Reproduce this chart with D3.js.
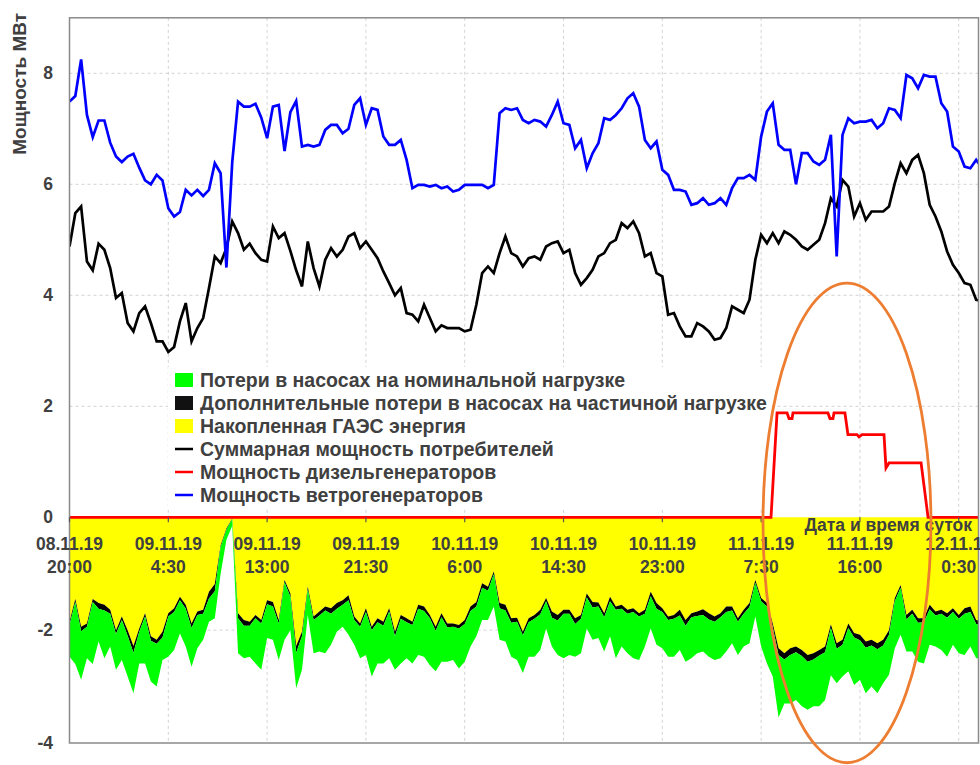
<!DOCTYPE html>
<html>
<head>
<meta charset="utf-8">
<script src="https://cdn.jsdelivr.net/npm/d3@7"></script>
<style>
  body { margin: 0; background: #fff; }
  svg { display: block; }
  text { font-family: "Liberation Sans", Arial, sans-serif; font-weight: bold; fill: #404040; }
</style>
</head>
<body>
<svg id="chart" width="980" height="765"></svg>
<script>
// Sampling: one value every half hour, starting 08.11.19 20:00
const sampleStepHours = 0.5;
const spanHours = 78.2;

// Axis ticks
const tickHours = [0, 8.5, 17, 25.5, 34, 42.5, 51, 59.5, 68, 76.5];
const tickDates = ["08.11.19", "09.11.19", "09.11.19", "09.11.19", "10.11.19", "10.11.19", "10.11.19", "11.11.19", "11.11.19", "12.11.19"];
const tickTimes = ["20:00", "4:30", "13:00", "21:30", "6:00", "14:30", "23:00", "7:30", "16:00", "0:30"];
const powerTicks = [-4, -2, 0, 2, 4, 6, 8];

// Wind generators, MW
const windPower = [
  7.49, 7.59, 8.25, 7.25, 6.85, 7.15, 7.15, 6.75, 6.5, 6.4,
  6.5, 6.55, 6.3, 6.07, 6.0, 6.17, 6.07, 5.57, 5.42, 5.5,
  5.9, 5.8, 5.9, 5.79, 5.9, 6.38, 6.2, 4.5, 6.4, 7.49,
  7.4, 7.4, 7.45, 7.2, 6.83, 7.4, 7.43, 6.6, 7.3, 7.5,
  6.68, 6.71, 6.68, 6.71, 6.98, 7.07, 7.07, 6.92, 7.0, 7.43,
  7.55, 7.07, 7.37, 7.34, 6.86, 6.71, 6.71, 6.8, 6.44, 5.93,
  5.99, 5.99, 5.96, 5.99, 5.93, 5.96, 5.87, 5.9, 5.99, 5.99,
  5.99, 5.99, 5.93, 5.99, 7.28, 7.37, 7.34, 7.37, 7.16, 7.1,
  7.16, 7.13, 7.04, 7.25, 7.49, 7.1, 7.07, 6.65, 6.8, 6.29,
  6.56, 6.74, 7.19, 7.16, 7.25, 7.37, 7.55, 7.64, 7.4, 6.8,
  6.65, 6.77, 6.26, 6.17, 5.9, 5.9, 5.87, 5.63, 5.66, 5.75,
  5.63, 5.66, 5.75, 5.63, 5.93, 6.11, 6.11, 6.17, 6.08, 6.86,
  7.31, 7.46, 6.71, 6.62, 6.62, 6.0, 6.56, 6.56, 6.41, 6.35,
  6.44, 6.89, 4.7, 6.89, 7.19, 7.1, 7.13, 7.13, 7.16, 7.01,
  7.1, 7.37, 7.34, 7.19, 7.97, 7.91, 7.73, 7.97, 7.94, 7.94,
  7.46, 7.31, 6.68, 6.59, 6.32, 6.29, 6.44, 6.3
];

// Total consumer load, MW
const consumerLoad = [
  4.88, 5.48, 5.6, 4.61, 4.45, 4.93, 4.82, 4.49, 3.95, 4.04,
  3.5, 3.35, 3.68, 3.8, 3.5, 3.17, 3.17, 2.98, 3.07, 3.53,
  3.86, 3.17, 3.41, 3.59, 4.13, 4.7, 4.58, 4.85, 5.33, 5.12,
  4.82, 4.93, 4.76, 4.64, 4.61, 5.24, 5.03, 5.12, 4.8, 4.45,
  4.16, 4.97, 4.49, 4.16, 4.64, 4.85, 4.7, 4.82, 5.06, 5.12,
  4.85, 4.97, 4.82, 4.67, 4.43, 4.22, 4.0, 4.13, 3.68, 3.65,
  3.53, 3.83, 3.59, 3.35, 3.46, 3.41, 3.41, 3.41, 3.35, 3.38,
  3.83, 4.4, 4.52, 4.4, 4.76, 5.06, 4.76, 4.7, 4.52, 4.67,
  4.7, 4.64, 4.88, 4.94, 4.97, 4.76, 4.82, 4.4, 4.19, 4.31,
  4.46, 4.7, 4.76, 4.94, 5.0, 5.3, 5.21, 5.33, 5.12, 4.7,
  4.76, 4.4, 4.34, 3.65, 3.68, 3.44, 3.26, 3.26, 3.5, 3.44,
  3.35, 3.2, 3.23, 3.41, 3.8, 3.74, 3.68, 3.92, 4.64, 5.09,
  4.94, 5.12, 4.94, 5.15, 5.09, 5.0, 4.88, 4.82, 4.91, 5.0,
  5.3, 5.75, 5.6, 6.08, 5.96, 5.42, 5.66, 5.36, 5.51, 5.51,
  5.51, 5.6, 6.02, 6.38, 6.2, 6.44, 6.53, 6.2, 5.63, 5.42,
  5.15, 4.79, 4.55, 4.4, 4.22, 4.19, 3.92, 3.9
];

// Stored pumped-storage energy: lower edge of the yellow band (MW, negative)
const storageFloor = [
  -1.85, -1.45, -1.94, -1.88, -1.45, -1.52, -1.55, -1.64, -2.0, -1.76,
  -2.0, -2.28, -1.97, -1.7, -2.11, -2.17, -2.03, -1.7, -1.61, -1.41,
  -1.55, -1.88, -1.67, -1.64, -1.32, -1.18, -0.5, -0.2, -0.02, -1.7,
  -1.82, -1.85, -1.73, -1.82, -1.47, -1.5, -1.82, -1.11, -1.35, -2.28,
  -2.03, -1.23, -1.76, -1.67, -1.58, -1.61, -1.52, -1.47, -1.38, -1.76,
  -1.88, -1.61, -1.94, -1.79, -1.85, -1.61, -2.03, -1.73, -1.79, -1.85,
  -1.55, -1.58, -1.73, -1.94, -1.7, -1.88, -1.88, -1.91, -1.82, -1.58,
  -1.5, -1.17, -1.23, -0.96, -1.52, -1.55, -1.79, -1.78, -2.03, -1.79,
  -1.73, -1.64, -1.43, -1.67, -1.73, -1.64, -1.64, -1.79, -1.73, -1.35,
  -1.5, -1.51, -1.7, -1.41, -1.58, -1.55, -1.64, -1.61, -1.7, -1.64,
  -1.32, -1.52, -1.61, -1.76, -1.73, -1.64, -1.82, -1.7, -1.67, -1.63,
  -1.7, -1.76, -1.7, -1.58, -1.58, -1.79, -1.64, -1.52, -1.11, -1.43,
  -1.52, -1.88, -2.32, -2.41, -2.32, -2.29, -2.35, -2.44, -2.41, -2.35,
  -2.29, -1.9, -2.23, -2.17, -1.88, -2.05, -2.08, -2.2, -2.17, -2.23,
  -2.17, -2.0, -1.43, -1.2, -1.73, -1.64, -1.79, -1.79, -1.55, -1.67,
  -1.64, -1.7, -1.61, -1.73, -1.61, -1.58, -1.82, -1.85
];

// Extra pump losses at partial load: thickness of the black band, MW
const partialLoadLoss = [
  0.06, 0.05, 0.08, 0.06, 0.05, 0.1, 0.1, 0.07, 0.07, 0.06,
  0.1, 0.12, 0.06, 0.06, 0.08, 0.07, 0.1, 0.06, 0.07, 0.06,
  0.07, 0.08, 0.06, 0.07, 0.12, 0.13, 0.03, 0.02, 0.01, 0.09,
  0.1, 0.07, 0.06, 0.06, 0.07, 0.08, 0.06, 0.04, 0.06, 0.12,
  0.08, 0.05, 0.06, 0.07, 0.07, 0.1, 0.1, 0.08, 0.09, 0.06,
  0.06, 0.07, 0.06, 0.07, 0.07, 0.06, 0.08, 0.07, 0.07, 0.06,
  0.07, 0.08, 0.06, 0.07, 0.07, 0.07, 0.06, 0.06, 0.07, 0.08,
  0.08, 0.08, 0.07, 0.05, 0.09, 0.1, 0.08, 0.07, 0.06, 0.07,
  0.07, 0.08, 0.06, 0.11, 0.1, 0.07, 0.07, 0.1, 0.07, 0.07,
  0.1, 0.07, 0.07, 0.08, 0.06, 0.07, 0.07, 0.07, 0.06, 0.07,
  0.08, 0.1, 0.07, 0.06, 0.07, 0.1, 0.1, 0.07, 0.08, 0.1,
  0.11, 0.09, 0.07, 0.1, 0.07, 0.06, 0.07, 0.07, 0.05, 0.06,
  0.06, 0.07, 0.12, 0.11, 0.12, 0.1, 0.11, 0.12, 0.11, 0.1,
  0.1, 0.06, 0.1, 0.09, 0.08, 0.08, 0.1, 0.11, 0.1, 0.11,
  0.1, 0.08, 0.06, 0.05, 0.08, 0.07, 0.08, 0.07, 0.08, 0.07,
  0.07, 0.08, 0.07, 0.07, 0.1, 0.1, 0.07, 0.07
];

// Lower edge of nominal pump losses (green band), MW
const lossFloor = [
  -2.47, -2.6, -2.88, -2.5, -2.6, -2.2, -2.5, -2.29, -2.7, -2.53,
  -2.82, -3.12, -2.59, -2.59, -2.91, -3.0, -2.53, -2.47, -2.35, -2.06,
  -2.29, -2.65, -2.32, -2.17, -1.85, -1.79, -1.0, -0.4, -0.15, -2.41,
  -2.5, -2.47, -2.59, -2.7, -2.14, -2.17, -2.53, -2.17, -2.0, -3.03,
  -2.7, -1.73, -2.41, -2.38, -2.41, -2.26, -2.03, -1.94, -2.08, -2.26,
  -2.5, -2.44, -2.82, -2.59, -2.59, -2.5, -2.7, -2.59, -2.5, -2.59,
  -2.44, -2.47, -2.62, -2.73, -2.56, -2.56, -2.53, -2.68, -2.56, -2.29,
  -2.11, -1.82, -1.82, -1.58, -2.17, -2.2, -2.47, -2.53, -2.76, -2.47,
  -2.47, -2.35, -1.97, -2.29, -2.44, -2.5, -2.44, -2.47, -2.41, -1.97,
  -2.17, -2.14, -2.38, -2.11, -2.5, -2.29, -2.41, -2.5, -2.53, -2.29,
  -1.97, -2.26, -2.32, -2.47, -2.47, -2.35, -2.56, -2.5, -2.41, -2.38,
  -2.47, -2.53, -2.5, -2.38, -2.23, -2.44, -2.29, -2.23, -1.76, -2.29,
  -2.59, -2.82, -3.55, -3.3, -3.3, -3.24, -3.35, -3.41, -3.35, -3.35,
  -3.24, -2.8, -2.94, -2.82, -2.73, -2.97, -2.88, -3.12, -3.0, -3.12,
  -2.94, -2.79, -2.32, -2.08, -2.38, -2.38, -2.56, -2.59, -2.26, -2.29,
  -2.35, -2.47, -2.26, -2.41, -2.44, -2.29, -2.5, -2.5
];

// Diesel generators: breakpoints (hours from start) and power, MW
const dieselHours = [0, 60.35, 60.87, 61.73, 61.9, 62.16, 62.24, 65.25, 65.42, 65.68, 65.77, 66.71, 66.97, 67.75, 67.92, 68.18, 70.07, 70.24, 70.5, 73.26, 73.86, 78.2];
const dieselPower = [0, 0, 1.88, 1.88, 1.78, 1.78, 1.88, 1.88, 1.78, 1.78, 1.88, 1.88, 1.49, 1.49, 1.45, 1.49, 1.49, 0.89, 0.98, 0.98, 0, 0];

// Highlighted interval (hours) and power range (MW) for the oval mark
const highlightHours = [59.66, 74.11];
const highlightPower = [-4.35, 4.22];

const legendLabels = [
  "Потери в насосах на номинальной нагрузке",
  "Дополнительные потери в насосах на частичной нагрузке",
  "Накопленная ГАЭС энергия",
  "Суммарная мощность потребителей",
  "Мощность дизельгенераторов",
  "Мощность ветрогенераторов"
];
const legendKinds = ["box", "box", "box", "line", "line", "line"];
const legendColors = ["#00ff00", "#111111", "#ffff00", "#000000", "#ff0000", "#0000ff"];

// ---------------------------------------------------------------------------
const svg = d3.select("#chart");
const plot = { left: 69.5, right: 978.5, top: 17.8, bottom: 743 };

const x = d3.scaleLinear().domain([0, spanHours]).range([plot.left, plot.right]);
const y = d3.scaleLinear().domain([-4, 0, 9]).range([plot.bottom, 517.3, plot.top]);

const samples = windPower.map((w, i) => ({
  h: i * sampleStepHours,
  wind: w,
  load: consumerLoad[i],
  store: storageFloor[i],
  partial: storageFloor[i] - partialLoadLoss[i],
  floor: lossFloor[i]
}));

svg.append("defs").append("clipPath").attr("id", "plotClip")
  .append("rect")
  .attr("x", plot.left).attr("y", plot.top)
  .attr("width", plot.right - plot.left).attr("height", plot.bottom - plot.top);

// Grid
const grid = svg.append("g").attr("stroke", "#d3d3d3").attr("stroke-width", 1).attr("stroke-dasharray", "3,3");
grid.selectAll("line.v").data(tickHours.slice(1)).join("line")
  .attr("x1", d => x(d)).attr("x2", d => x(d))
  .attr("y1", plot.top).attr("y2", plot.bottom);
grid.selectAll("line.h").data(powerTicks.filter(v => v !== 0 && v !== -4)).join("line")
  .attr("x1", plot.left).attr("x2", plot.right)
  .attr("y1", d => y(d)).attr("y2", d => y(d));

const body = svg.append("g").attr("clip-path", "url(#plotClip)");

// Stacked bottom bands
body.append("path").datum(samples).attr("fill", "#ffff00")
  .attr("d", d3.area().x(d => x(d.h)).y0(y(0)).y1(d => y(d.store)));
body.append("path").datum(samples).attr("fill", "#000000")
  .attr("d", d3.area().x(d => x(d.h)).y0(d => y(d.store)).y1(d => y(d.partial)));
body.append("path").datum(samples).attr("fill", "#00ff00")
  .attr("d", d3.area().x(d => x(d.h)).y0(d => y(d.partial)).y1(d => y(d.floor)));

// Lines
body.append("path").datum(samples).attr("fill", "none")
  .attr("stroke", "#000000").attr("stroke-width", 2.7)
  .attr("d", d3.line().x(d => x(d.h)).y(d => y(d.load)));
body.append("path").datum(samples).attr("fill", "none")
  .attr("stroke", "#0000ff").attr("stroke-width", 2.7)
  .attr("d", d3.line().x(d => x(d.h)).y(d => y(d.wind)));

// Frame
svg.append("rect")
  .attr("x", plot.left).attr("y", plot.top)
  .attr("width", plot.right - plot.left).attr("height", plot.bottom - plot.top)
  .attr("fill", "none").attr("stroke", "#8a8a8a").attr("stroke-width", 1.5);

// Tick marks on the zero line
svg.append("g").selectAll("line").data(tickHours).join("line")
  .attr("x1", d => x(d)).attr("x2", d => x(d))
  .attr("y1", y(0)).attr("y2", y(0) + 5)
  .attr("stroke", "#555").attr("stroke-width", 1.2);

// Diesel power
const diesel = dieselHours.map((h, i) => ({ h, v: dieselPower[i] }));
body.append("path").datum(diesel).attr("fill", "none")
  .attr("stroke", "#ff0000").attr("stroke-width", 2.8)
  .attr("d", d3.line().x(d => x(d.h)).y(d => y(d.v)));

// Y tick labels
svg.append("g").selectAll("text").data(powerTicks).join("text")
  .attr("x", 53).attr("y", d => y(d) + 6)
  .attr("text-anchor", "end").attr("font-size", 17.5)
  .text(d => d);

// Y title
svg.append("text")
  .attr("transform", "translate(26,13) rotate(-90)")
  .attr("text-anchor", "end").attr("font-size", 19)
  .text("Мощность МВт");

// X tick labels (date above time)
svg.append("g").attr("text-anchor", "middle").attr("font-size", 17.5)
  .selectAll("text").data(tickHours).join("text")
  .attr("x", d => x(d)).attr("y", 550)
  .text((d, i) => tickDates[i]);
svg.append("g").attr("text-anchor", "middle").attr("font-size", 17.5)
  .selectAll("text").data(tickHours).join("text")
  .attr("x", d => x(d)).attr("y", 573)
  .text((d, i) => tickTimes[i]);

svg.append("text")
  .attr("x", 972).attr("y", 531).attr("text-anchor", "end").attr("font-size", 17.5)
  .text("Дата и время суток");

// Legend
const legend = svg.append("g");
legend.append("rect").attr("x", 168).attr("y", 367).attr("width", 602).attr("height", 141).attr("fill", "#fff");
const rowY = i => 380 + i * 23;
legendLabels.forEach((label, i) => {
  if (legendKinds[i] === "box") {
    legend.append("rect").attr("x", 175).attr("y", rowY(i) - 7).attr("width", 18).attr("height", 14)
      .attr("fill", legendColors[i]);
  } else {
    legend.append("line").attr("x1", 175).attr("x2", 193).attr("y1", rowY(i)).attr("y2", rowY(i))
      .attr("stroke", legendColors[i]).attr("stroke-width", 2.5);
  }
  legend.append("text").attr("x", 200).attr("y", rowY(i) + 7).attr("font-size", 19.5).text(label);
});

// Oval highlighting the diesel operation period
const cx = x((highlightHours[0] + highlightHours[1]) / 2);
const rx = (x(highlightHours[1]) - x(highlightHours[0])) / 2;
const yTop = y(highlightPower[1]), yBot = y(highlightPower[0]);
svg.append("ellipse")
  .attr("cx", cx).attr("cy", (yTop + yBot) / 2)
  .attr("rx", rx).attr("ry", (yBot - yTop) / 2)
  .attr("fill", "none").attr("stroke", "#ed7d31").attr("stroke-width", 2.8);
</script>
</body>
</html>
